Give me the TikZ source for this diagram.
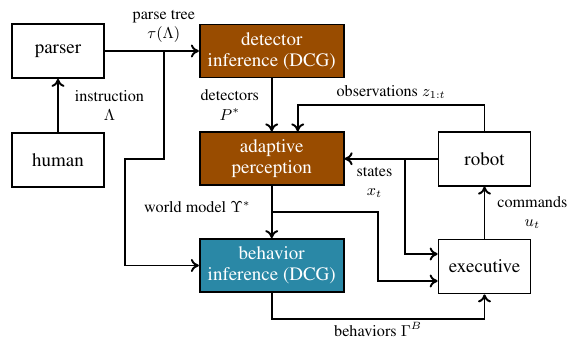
\documentclass[tikz,border=0pt]{standalone}
\usepackage{amsmath,amssymb}
\usepackage[T1]{fontenc}
\usepackage{times}
\usepackage{xcolor}
\usetikzlibrary{positioning, arrows.meta, calc}
\definecolor{dcgbrown}{RGB}{153,76,0}
\definecolor{dcgteal}{RGB}{42,136,166}

\begin{document}
\begin{tikzpicture}[
  node distance=1.06cm and 1.88cm,
  block/.style={draw, line width=1pt, minimum width=1.84cm, minimum height=1.08cm, align=center, font=\fontsize{10.8}{12}\selectfont},
  dcgblock/.style={block, minimum width=2.88cm, minimum height=1.06cm, text=white},
  flowlabel/.style={font=\fontsize{9.2}{11}\selectfont, align=center},
  >={To[length=1.6mm, width=2.6mm]}
]
\useasboundingbox (-1.16,1.02) rectangle (10.24,-5.76);

% Main blocks
\node[block] (parser) {parser};
\node[block, below=of parser] (human) {human};
\node[dcgblock, fill=dcgbrown, right=of parser] (detector) {detector\\inference (DCG)};
\node[dcgblock, fill=dcgbrown, below=of detector] (adaptive) {adaptive\\perception};
\node[dcgblock, fill=dcgteal, below=1.04cm of adaptive] (behavior) {behavior\\inference (DCG)};
\node[block, right=1.86cm of adaptive] (robot) {robot};
\node[block, below=1.04cm of robot] (executive) {executive};

% Branch points
\coordinate (treesplit) at ([xshift=1.18cm]parser.east);
\coordinate (statesplit) at ([xshift=-0.66cm]robot.west);
\coordinate (worldsplit) at ([yshift=-0.52cm]adaptive.south);

% Edges
\draw[line width=1.1pt, ->] (human) -- node[flowlabel, right=0.2cm] {instruction\\$\Lambda$} (parser);
\draw[line width=1.1pt, ->] (parser) -- (detector);
\draw[line width=1.1pt, ->] (treesplit) -- (treesplit |- adaptive) -- ++(-0.78,0) |- (behavior.west);
\draw[line width=1.1pt, ->] (detector) -- node[flowlabel, left=0.12cm] {detectors\\$P^*$} (adaptive);
\draw[line width=1.1pt, ->] (robot.north) -- ++(0,0.52) -| node[flowlabel, above, pos=0.25] {observations $z_{1:t}$} ([xshift=0.52cm]adaptive.north);
\draw[line width=1.1pt, ->] (robot.west) -- (adaptive.east);
\draw[line width=1.1pt, ->] (statesplit) |- ([yshift=0.25cm]executive.west);
\draw[line width=1.1pt, ->] (adaptive) -- (behavior);
\draw[line width=1.1pt, ->] (worldsplit) -- ++(2.12,0) |- ([yshift=-0.29cm]executive.west);
\draw[line width=1.1pt, ->] (executive) -- node[flowlabel, right=0.12cm] {commands\\$u_t$} (robot);
\draw[line width=1.1pt, ->] (behavior.south) -- ++(0,-0.52) -| node[flowlabel, below, inner sep=1.5pt, pos=0.25] {behaviors $\Gamma^B$} (executive.south);

% Flow labels at branch points
\node[flowlabel, above=0.05cm of treesplit] (treelabel) {parse tree\\$\tau(\Lambda)$};
\node[flowlabel, below left=0.05cm and 0.12cm of statesplit] (stateslabel) {states\\$x_t$};
\node[flowlabel, left=0.3cm of worldsplit, yshift=0.1cm] (worldlabel) {world model $\Upsilon^*$};

\end{tikzpicture}
\end{document}
